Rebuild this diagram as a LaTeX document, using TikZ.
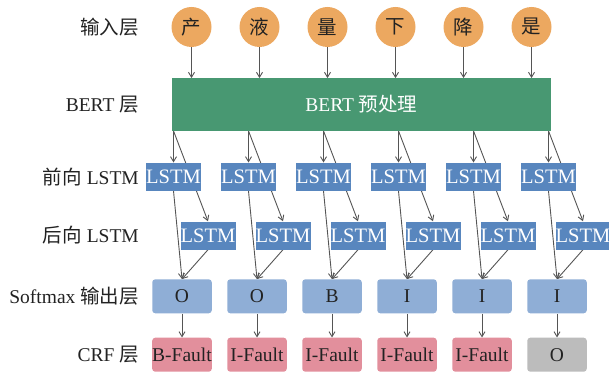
\documentclass[tikz,border=0pt]{standalone}
\usepackage{fontspec}
\setmainfont{Liberation Serif}
\newfontfamily\cjk{Noto Sans CJK SC}
\usetikzlibrary{arrows.meta,backgrounds}
\definecolor{corange}{RGB}{236,168,96}
\definecolor{cgreen}{RGB}{72,152,114}
\definecolor{cblue}{RGB}{88,134,190}
\definecolor{clight}{RGB}{143,174,214}
\definecolor{cpink}{RGB}{226,143,156}
\definecolor{cgrey}{RGB}{188,188,188}
\definecolor{carrow}{RGB}{85,85,85}
\definecolor{ctext}{RGB}{34,34,34}
\begin{document}
\begin{tikzpicture}[x=1pt,y=-1pt,
  font=\fontsize{19.5}{22}\selectfont,
  inchar/.style={circle, fill=corange, minimum size=40pt, inner sep=0pt, text=ctext},
  bertbox/.style={rectangle, fill=cgreen, minimum width=379.3pt, minimum height=52.4pt, inner sep=0pt, text=white},
  lstmbox/.style={rectangle, fill=cblue, minimum width=55pt, minimum height=28pt, inner sep=0pt, text=white, font=\fontsize{20.5}{22}\selectfont},
  softbox/.style={rectangle, rounded corners=3pt, fill=clight, minimum width=59.5pt, minimum height=34pt, inner sep=0pt, text=ctext},
  crfbox/.style={softbox, fill=cpink},
  greybox/.style={softbox, fill=cgrey},
  lbl/.style={anchor=east, inner sep=0pt, text=ctext},
  arr/.style={draw=carrow, line width=0.9pt, -{Straight Barb[length=5pt,width=6pt]}}]
\useasboundingbox (0,0) rectangle (609,374);
% row labels
\node[lbl] (l1) at (139,27) {\cjk 输入层};
\node[lbl] (l2) at (139,104.5) {BERT {\cjk 层}};
\node[lbl] (l3) at (139,176.7) {{\cjk 前向} LSTM};
\node[lbl] (l4) at (139,235.5) {{\cjk 后向} LSTM};
\node[lbl] (l5) at (139,296.3) {Softmax {\cjk 输出层}};
\node[lbl] (l6) at (139,354.7) {CRF {\cjk 层}};
% input characters
\foreach \i/\c in {1/产,2/液,3/量,4/下,5/降,6/是}
  \node[inchar] (c\i) at ({191.5+68*(\i-1)},27) {\cjk \c};
% BERT
\node[bertbox] (bert) at (361.35,104.5) {BERT {\cjk 预处理}};
% LSTM layers
\foreach \i in {1,...,6} {
  \node[lstmbox] (f\i) at ({173.5+75*(\i-1)},176.7) {LSTM};
  \node[lstmbox] (b\i) at ({208+75*(\i-1)},235.5) {LSTM};
}
% softmax
\foreach \i/\t in {1/O,2/O,3/B,4/I,5/I,6/I}
  \node[softbox] (s\i) at ({182+75*(\i-1)},296.3) {\t};
% CRF
\foreach \i/\t/\s in {1/B-Fault/crfbox,2/I-Fault/crfbox,3/I-Fault/crfbox,4/I-Fault/crfbox,5/I-Fault/crfbox,6/O/greybox}
  \node[\s] (r\i) at ({182+75*(\i-1)},354.7) {\t};
% connectors
\begin{scope}[on background layer]
\foreach \i in {1,...,6} {
  \draw[arr] (c\i) -- (c\i |- bert.north);
  \draw[arr] (f\i |- bert.south) -- (f\i);
  \draw[arr] (f\i |- bert.south) -- (b\i.north);
  \draw[arr] (f\i.south) -- (s\i.north);
  \draw[arr] (b\i.south) -- (s\i.north);
  \draw[arr] (s\i) -- (r\i);
}
\end{scope}
\end{tikzpicture}
\end{document}
